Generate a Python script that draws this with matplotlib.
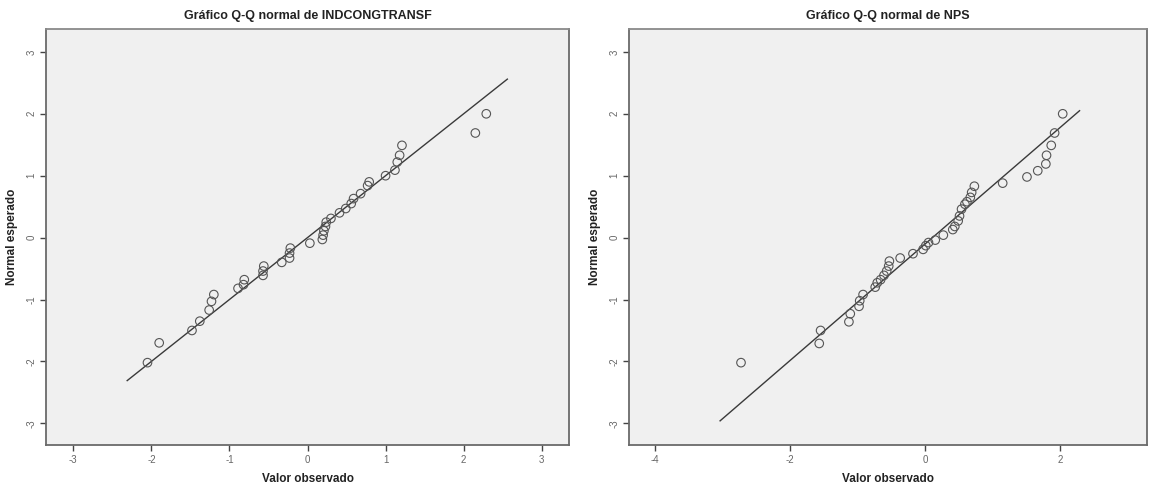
import matplotlib
matplotlib.use("Agg")
import matplotlib.pyplot as plt

plt.rcParams['font.family'] = ['Liberation Sans', 'DejaVu Sans']
plt.rcParams['axes.unicode_minus'] = False

# INDCONGTRANSF: observed (standardised) vs expected normal
ind_obs = [-2.05, -1.90, -1.48, -1.38, -1.26, -1.23, -1.20, -0.89, -0.82, -0.81,
           -0.57, -0.57, -0.56, -0.33, -0.23, -0.23, -0.22, 0.03, 0.19, 0.20,
           0.21, 0.23, 0.24, 0.30, 0.41, 0.49, 0.56, 0.59, 0.68, 0.77,
           0.79, 1.00, 1.12, 1.15, 1.18, 1.21, 2.15, 2.29]
ind_exp = [-2.02, -1.70, -1.50, -1.35, -1.17, -1.03, -0.92, -0.82, -0.76, -0.68,
           -0.61, -0.54, -0.46, -0.40, -0.33, -0.25, -0.17, -0.09, -0.03, 0.04,
           0.11, 0.18, 0.25, 0.31, 0.40, 0.47, 0.55, 0.63, 0.71, 0.84,
           0.90, 1.00, 1.09, 1.22, 1.33, 1.49, 1.69, 2.00]
ind_line_x = [-2.31, 2.56]
ind_line_y = [-2.31, 2.56]

# NPS
nps_obs = [-2.73, -1.57, -1.55, -1.13, -1.11, -0.98, -0.97, -0.92, -0.74, -0.71,
           -0.66, -0.61, -0.57, -0.54, -0.53, -0.37, -0.18, -0.03, 0.01, 0.05,
           0.15, 0.27, 0.41, 0.44, 0.49, 0.51, 0.54, 0.59, 0.62, 0.67,
           0.69, 0.73, 1.15, 1.51, 1.67, 1.79, 1.80, 1.87, 1.92, 2.04]
nps_exp = [-2.02, -1.71, -1.50, -1.36, -1.23, -1.11, -1.02, -0.92, -0.80, -0.73,
           -0.68, -0.61, -0.54, -0.46, -0.38, -0.33, -0.26, -0.19, -0.13, -0.08,
           -0.04, 0.04, 0.13, 0.18, 0.27, 0.35, 0.46, 0.54, 0.58, 0.65,
           0.73, 0.83, 0.88, 0.98, 1.08, 1.19, 1.33, 1.49, 1.69, 2.00]
nps_line_x = [-3.04, 2.29]
nps_line_y = [-2.96, 2.05]

panels = [
    ("Gráfico Q-Q normal de INDCONGTRANSF", ind_obs, ind_exp, ind_line_x, ind_line_y,
     (-3.35, 3.35), [-3, -2, -1, 0, 1, 2, 3], [0.040, 0.0974, 0.4548, 0.8438]),
    ("Gráfico Q-Q normal de NPS", nps_obs, nps_exp, nps_line_x, nps_line_y,
     (-4.39, 3.29), [-4, -2, 0, 2], [0.547, 0.0974, 0.4504, 0.8438]),
]

fig = plt.figure(figsize=(11.5, 4.93), dpi=100)

for title, xs, ys, lx, ly, xlim, xticks, rect in panels:
    ax = fig.add_axes(rect)
    ax.set_facecolor('#f0f0f0')
    ax.plot(lx, ly, color='#3a3a3a', lw=1.0, zorder=2)
    ax.scatter(xs, ys, s=38, facecolors='none', edgecolors='#555555',
               linewidths=0.8, zorder=3)
    ax.set_xlim(*xlim)
    ax.set_ylim(-3.35, 3.37)
    ax.set_xticks(xticks)
    ax.set_yticks([-3, -2, -1, 0, 1, 2, 3])
    ax.tick_params(direction='out', length=4, width=1, color='#444444',
                   labelsize=7, labelcolor='#666666', pad=3)
    for lab in ax.get_yticklabels():
        lab.set_rotation(90)
        lab.set_va('center')
    for s in ax.spines.values():
        s.set_color('#6a6a6a')
        s.set_linewidth(1.3)
    ax.spines['top'].set_color('#8a8a8a')
    ax.set_title(title, fontsize=9, fontweight='bold', color='#222222', pad=7)
    ax.set_xlabel("Valor observado", fontsize=8.5, fontweight='bold',
                  color='#222222', labelpad=6)
    ax.set_ylabel("Normal esperado", fontsize=8.5, fontweight='bold',
                  color='#222222', labelpad=6)

fig.savefig("out.png", dpi=100, facecolor='white')
